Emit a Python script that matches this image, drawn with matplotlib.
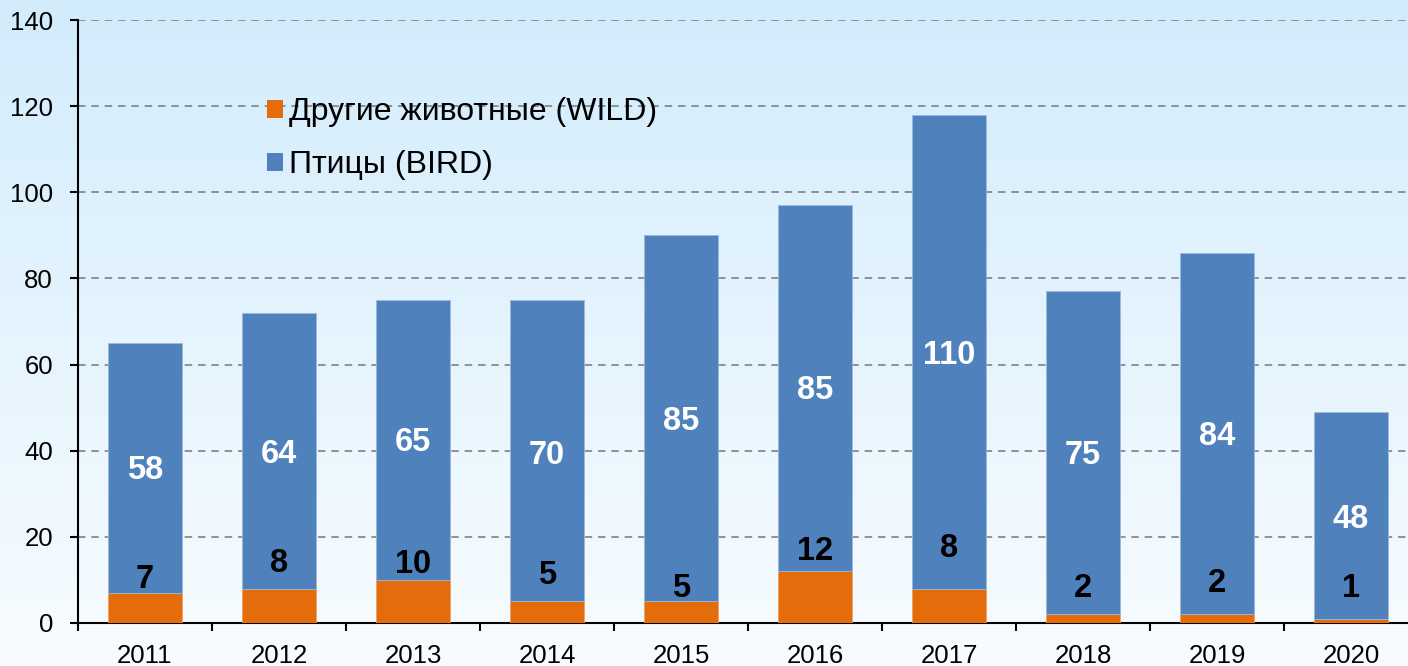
import numpy as np
import matplotlib
matplotlib.use("Agg")
import matplotlib.pyplot as plt
from matplotlib.patches import Patch
from matplotlib.colors import LinearSegmentedColormap
from matplotlib.transforms import offset_copy

years = ["2011", "2012", "2013", "2014", "2015", "2016", "2017", "2018", "2019", "2020"]
wild = [7, 8, 10, 5, 5, 12, 8, 2, 2, 1]
bird = [58, 64, 65, 70, 85, 85, 110, 75, 84, 48]
wild_label_y = [10.9, 14.4, 14.2, 11.8, 8.8, 17.2, 17.9, 8.8, 9.8, 8.8]
bird_label_y = [36.2, 39.9, 42.7, 39.7, 47.4, 54.6, 62.9, 39.5, 44.1, 24.8]
yticks = [0, 20, 40, 60, 80, 100, 120, 140]

plt.rcParams['font.family'] = ['Liberation Sans', 'DejaVu Sans']

W, H = 1408, 666
fig = plt.figure(figsize=(W / 100, H / 100), dpi=100)

# background gradient
bg = fig.add_axes([0, 0, 1, 1], zorder=-10)
cmap = LinearSegmentedColormap.from_list("bg", ["#F8FCFF", "#D2ECFC"])
grad = np.linspace(0, 1, 256).reshape(-1, 1)
bg.imshow(grad, aspect='auto', cmap=cmap, origin='lower', extent=[0, 1, 0, 1])
bg.axis('off')

left_px, right_px, top_px, bot_px = 78, 1418, 20, 623
ax = fig.add_axes([left_px / W, 1 - bot_px / H, (right_px - left_px) / W, (bot_px - top_px) / H])
ax.set_facecolor('none')

x = np.arange(len(years))
orange = '#E46C0A'
blue = '#4F81BD'
ax.bar(x, wild, width=0.55, color=orange, edgecolor='#F0A060', linewidth=0.6, zorder=3)
ax.bar(x, bird, width=0.55, bottom=wild, color=blue, edgecolor='#9DB9DA', linewidth=0.6, zorder=3)

tr = offset_copy(ax.transData, fig=fig, x=0, y=-3, units='dots')
for i in range(len(years)):
    ax.text(x[i], wild_label_y[i], str(wild[i]), ha='center', va='center', transform=tr,
            fontsize=23.5, fontweight='bold', color='black', zorder=5)
    ax.text(x[i], bird_label_y[i], str(bird[i]), ha='center', va='center', transform=tr,
            fontsize=23.5, fontweight='bold', color='white', zorder=5)

ax.set_xlim(-0.5, len(years) - 0.5)
ax.set_ylim(0, 140)
ax.set_yticks(yticks)
ax.yaxis.grid(True, linestyle=(0, (4.5, 3.5)), color='#808080', linewidth=1.2, zorder=0)
ax.set_axisbelow(True)

ax.set_xticks(x)
ax.set_xticklabels(years)
ax.set_xticks(np.arange(-0.5, len(years), 1.0), minor=True)
ax.tick_params(axis='x', which='major', length=0, pad=15, labelsize=18.5)
ax.tick_params(axis='x', which='minor', length=6, width=1.5, direction='out')
ax.tick_params(axis='y', which='major', length=6, width=1.5, pad=12, labelsize=18.5)

for s in ['top', 'right']:
    ax.spines[s].set_visible(False)
for s in ['left', 'bottom']:
    ax.spines[s].set_linewidth(1.5)
    ax.spines[s].set_color('black')

handles = [Patch(facecolor=orange, edgecolor='none', label='Другие животные (WILD)'),
           Patch(facecolor=blue, edgecolor='none', label='Птицы (BIRD)')]
leg = fig.legend(handles=handles, loc='upper left', bbox_to_anchor=(267 / W, 1 - 97 / H),
                 frameon=False, fontsize=23, handlelength=0.5, handleheight=0.5,
                 handletextpad=0.2, labelspacing=0.73, borderpad=0, borderaxespad=0)

fig.savefig('out.png', dpi=100)
